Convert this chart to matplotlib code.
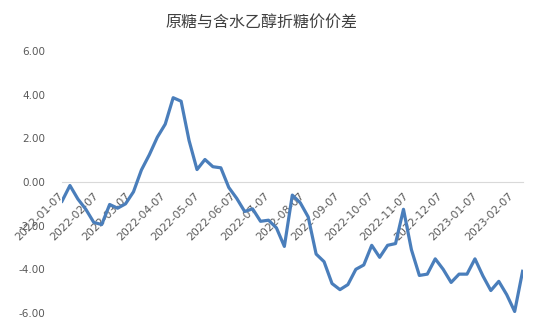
import pandas as pd
import matplotlib.pyplot as plt

plt.rcParams['font.family'] = ['DejaVu Sans', 'Noto Sans CJK SC']

# weekly spread, starting 2022-01-07
start = '2022-01-07'
spread = [-0.88, -0.16, -0.78, -1.25, -1.85, -1.95, -1.03, -1.20, -1.00, -0.45,
          0.55, 1.25, 2.05, 2.65, 3.86, 3.70, 1.90, 0.57, 1.03, 0.70,
          0.65, -0.25, -0.75, -1.35, -1.23, -1.80, -1.75, -2.10, -2.95, -0.60,
          -0.95, -1.60, -3.30, -3.65, -4.65, -4.93, -4.70, -4.00, -3.80, -2.90,
          -3.45, -2.90, -2.82, -1.25, -3.10, -4.28, -4.22, -3.52, -4.00, -4.60,
          -4.22, -4.22, -3.52, -4.30, -4.97, -4.55, -5.16, -5.93, -4.09]
tick_labels = ['2022-01-07', '2022-02-07', '2022-03-07', '2022-04-07', '2022-05-07',
               '2022-06-07', '2022-07-07', '2022-08-07', '2022-09-07', '2022-10-07',
               '2022-11-07', '2022-12-07', '2023-01-07', '2023-02-07']
y_ticks = [-6, -4, -2, 0, 2, 4, 6]

dates = pd.date_range(start, periods=len(spread), freq='7D')
ticks = pd.to_datetime(tick_labels)

fig = plt.figure(figsize=(5.5, 3.3), dpi=100)
ax = fig.add_axes([62 / 550, 1 - 313 / 330, (522.6 - 62) / 550, (313 - 51) / 330])

ax.plot(dates, spread, color='#4a7ebb', linewidth=2.3, solid_joinstyle='round')

ax.set_xlim(dates[0], dates[-1])
ax.set_ylim(-6, 6)
ax.set_yticks(y_ticks)
ax.set_yticklabels(['%.2f' % v for v in y_ticks])
ax.set_xticks(ticks)
ax.set_xticklabels(tick_labels)

for s in ['top', 'right', 'left']:
    ax.spines[s].set_visible(False)
ax.spines['bottom'].set_position(('data', 0))
ax.spines['bottom'].set_color('#d9d9d9')
ax.spines['bottom'].set_linewidth(0.8)
ax.spines['bottom'].set_zorder(0)

ax.tick_params(axis='y', length=0, pad=12, labelsize=7.5, labelcolor='#595959')
ax.tick_params(axis='x', length=0, pad=9, labelsize=7.8, labelcolor='#595959',
               labelrotation=45)
plt.setp(ax.get_xticklabels(), ha='right', va='center', rotation_mode='anchor')

fig.text(0.475, 1 - 22 / 330, '原糖与含水乙醇折糖价价差', ha='center', va='center',
         fontsize=11.5, color='#404040', family=['Noto Sans CJK SC', 'DejaVu Sans'])

fig.savefig('out.png', dpi=100)
